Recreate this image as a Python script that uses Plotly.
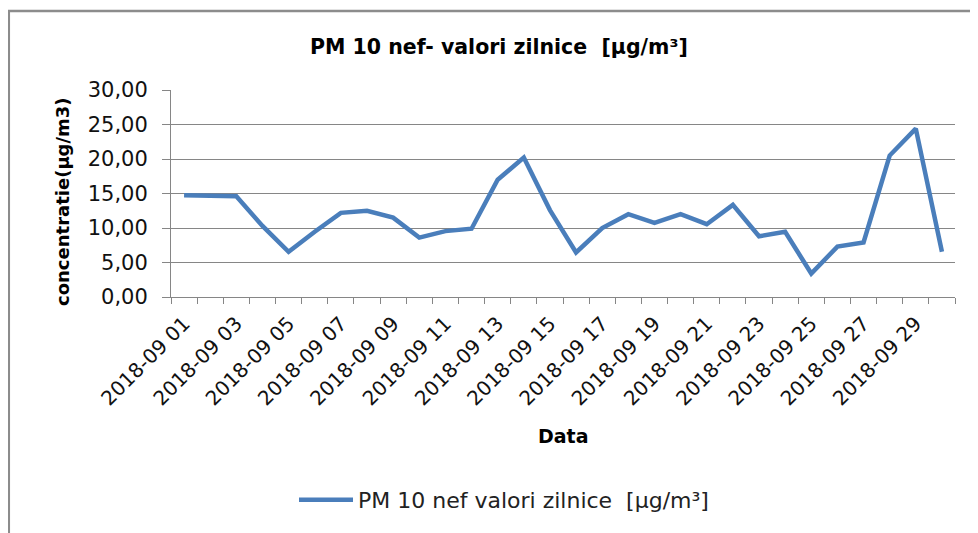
import plotly.graph_objects as go

days = [f"2018-09 {d:02d}" for d in range(1, 31)]
values = [14.75, 14.7, 14.6, 10.3, 6.55, 9.45, 12.2, 12.5, 11.5, 8.6,
          9.55, 9.9, 17.0, 20.2, 12.6, 6.45, 10.0, 12.0, 10.75, 12.0,
          10.55, 13.35, 8.8, 9.45, 3.4, 7.3, 7.9, 20.5, 24.4, 6.55]
tick_labels = [d if i % 2 == 0 else "" for i, d in enumerate(days)]
y_ticks = [0, 5, 10, 15, 20, 25, 30]

series_name = "PM 10 nef valori zilnice  [µg/m³]"
title_text = "PM 10 nef- valori zilnice  [µg/m³]"
y_title = "concentratie(µg/m3)"
x_title = "Data"

FONT = "DejaVu Sans"
# page body has an 8px margin; figure is placed at (8, 8)
OFF = 8
W, H = 978 - OFF, 533 - OFF
PL, PR, PT, PB = 171, 955, 90, 297  # plot area in page pixels
L, T = PL - OFF, PT - OFF
R = W - (PR - OFF)
B = H - (PB - OFF)
pw, ph = PR - PL, PB - PT

def px(x):
    return (x - PL) / pw

def py(y):
    return (PB - y) / ph

fig = go.Figure()
fig.add_trace(go.Scatter(
    x=days, y=values, mode="lines", name=series_name,
    line=dict(color="#4A7EBB", width=4.5),
))

fig.update_layout(
    width=W, height=H,
    margin=dict(l=L, r=R, t=T, b=B),
    paper_bgcolor="white", plot_bgcolor="white",
    separators=",.",
    font=dict(family=FONT, color="#000000"),
    showlegend=True,
    legend=dict(orientation="h", x=px(294), y=py(500), xanchor="left", yanchor="middle",
                font=dict(size=22, family=FONT, color="#222222"), itemwidth=54,
                bgcolor="rgba(0,0,0,0)"),
    xaxis=dict(
        type="category", tickmode="array", tickvals=days, ticktext=tick_labels,
        tickson="boundaries", tickangle=-45, ticks="outside", ticklen=6,
        tickcolor="#868686", showline=True, linecolor="#868686", linewidth=1,
        showgrid=False, tickfont=dict(size=20, family=FONT, color="#111111"),
        ticklabelstandoff=6, automargin=False,
        range=[-0.5, 29.5], fixedrange=True,
    ),
    yaxis=dict(
        range=[0, 30], tickmode="array", tickvals=y_ticks, tickformat=".2f",
        ticks="outside", ticklen=8, tickcolor="#868686",
        showline=True, linecolor="#868686", linewidth=1,
        showgrid=True, gridcolor="#868686", gridwidth=1, zeroline=False,
        tickfont=dict(size=21, family=FONT, color="#111111"),
        ticklabelstandoff=10, automargin=False, fixedrange=True,
    ),
    annotations=[
        dict(text=f"<b>{title_text}</b>", x=px(499), y=py(47), xref="paper", yref="paper",
             showarrow=False, xanchor="center", yanchor="middle",
             font=dict(size=20.5, family=FONT, color="#000000")),
        dict(text=f"<b>{y_title}</b>", x=px(62), y=py(202), xref="paper", yref="paper",
             showarrow=False, xanchor="center", yanchor="middle", textangle=-90,
             font=dict(size=18, family=FONT, color="#000000")),
        dict(text=f"<b>{x_title}</b>", x=px(563), y=py(436), xref="paper", yref="paper",
             showarrow=False, xanchor="center", yanchor="middle",
             font=dict(size=19, family=FONT, color="#000000")),
    ],
    shapes=[
        dict(type="rect", xref="paper", yref="paper",
             x0=px(8.8), x1=px(1010), y0=py(560), y1=py(11),
             line=dict(color="#8C8C8C", width=2.5), fillcolor="rgba(0,0,0,0)", layer="below"),
    ],
)

fig.write_html("out.html")
